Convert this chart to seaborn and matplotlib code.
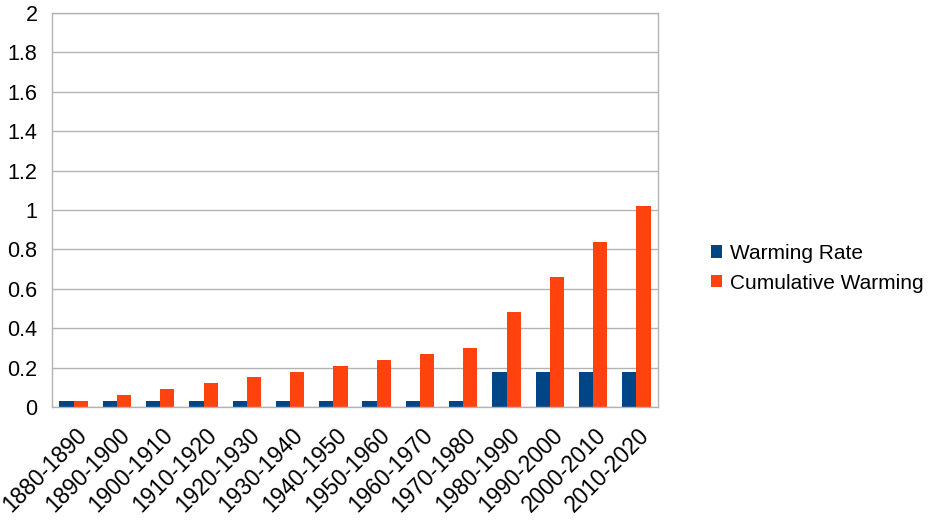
import matplotlib
matplotlib.use('Agg')
import pandas as pd
import seaborn as sns
import matplotlib.pyplot as plt
from matplotlib.ticker import FuncFormatter

decades = ['1880-1890', '1890-1900', '1900-1910', '1910-1920', '1920-1930',
           '1930-1940', '1940-1950', '1950-1960', '1960-1970', '1970-1980',
           '1980-1990', '1990-2000', '2000-2010', '2010-2020']
warming_rate = [0.03, 0.03, 0.03, 0.03, 0.03, 0.03, 0.03, 0.03, 0.03, 0.03,
                0.18, 0.18, 0.18, 0.18]
cumulative = [0.03, 0.06, 0.09, 0.12, 0.15, 0.18, 0.21, 0.24, 0.27, 0.30,
              0.48, 0.66, 0.84, 1.02]

df = pd.DataFrame({
    'decade': decades * 2,
    'value': warming_rate + cumulative,
    'series': ['Warming Rate'] * len(decades) + ['Cumulative Warming'] * len(decades),
})

sns.set_style('white')
plt.rcParams['font.family'] = ['Liberation Sans', 'DejaVu Sans']
plt.rcParams['text.color'] = 'black'
plt.rcParams['xtick.labelcolor'] = 'black'
plt.rcParams['ytick.labelcolor'] = 'black'
fs = 15.5

fig = plt.figure(figsize=(9.43, 5.3), dpi=100)
ax = fig.add_axes([52 / 943, 1 - 407 / 530, 606 / 943, 394 / 530])

sns.barplot(data=df, x='decade', y='value', hue='series',
            palette=['#004586', '#ff420e'], width=0.66, ax=ax,
            edgecolor='none', saturation=1, legend=True)

grid = '#b3b3b3'
ax.set_ylim(0, 2)
ax.set_xlim(-0.5, len(decades) - 0.5)
ax.set_yticks([i / 10 for i in range(0, 21, 2)])
ax.yaxis.set_major_formatter(FuncFormatter(lambda v, p: f'{v:g}'))
ax.yaxis.grid(True, color=grid, linewidth=1)
ax.set_axisbelow(True)
ax.set_xticks([i + 0.03 for i in range(len(decades))])
ax.set_xticklabels(decades, rotation=45, ha='right', va='top', rotation_mode='anchor')
ax.set_xticks([i - 0.5 for i in range(len(decades) + 1)], minor=True)
ax.tick_params(axis='x', which='major', length=0, labelsize=16.3, pad=12)
ax.tick_params(axis='x', which='minor', length=7, color=grid, width=1, direction='out')
ax.tick_params(axis='y', length=6.5, color=grid, width=1, labelsize=fs, pad=4)
ax.set_xlabel('')
ax.set_ylabel('')
for s in ax.spines.values():
    s.set_color(grid)
    s.set_linewidth(1)

handles, labels = ax.get_legend_handles_labels()
ax.legend(handles, labels, loc='center left', bbox_to_anchor=(1.073, 0.352),
          frameon=False, fontsize=15, handlelength=0.55, handleheight=0.55,
          handletextpad=0.4, labelspacing=0.5, borderaxespad=0)

plt.savefig('out.png', dpi=100)
